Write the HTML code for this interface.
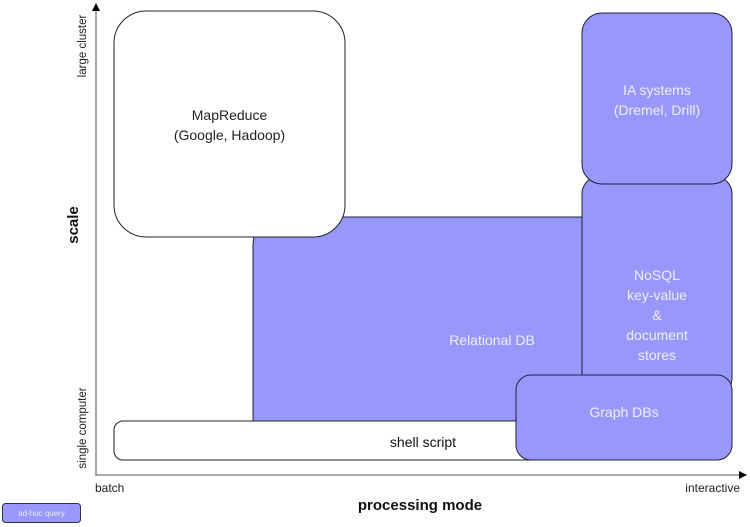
<!DOCTYPE html>
<html><head><meta charset="utf-8"><style>
html,body{margin:0;padding:0;background:#fff;}
svg{display:block;font-family:"Liberation Sans",sans-serif;}
</style></head><body>
<svg width="750" height="527" viewBox="0 0 750 527" xmlns="http://www.w3.org/2000/svg">
<defs><marker id="ah" markerWidth="8" markerHeight="8" refX="7" refY="4" orient="auto" markerUnits="userSpaceOnUse"><path d="M0,0 L8,4 L0,8 z" fill="#000"/></marker></defs>
<!-- axes -->
<line x1="96" y1="476" x2="96" y2="4" stroke="#777" stroke-width="1.3" marker-end="url(#ah)"/>
<line x1="96" y1="475" x2="746" y2="475" stroke="#777" stroke-width="1.3" marker-end="url(#ah)"/>
<!-- Relational DB -->
<path d="M253,421.5 L253,247 Q253,217 283,217 L640,217 L640,421.5 Z" fill="#9797fc" stroke="#223" stroke-width="1"/>
<text x="492" y="345" font-size="14" fill="#eef" text-anchor="middle">Relational DB</text>
<!-- MapReduce -->
<rect x="114" y="11" width="231" height="226" rx="32" fill="#fff" stroke="#222" stroke-width="1"/>
<text x="229.5" y="120" font-size="14" fill="#222" text-anchor="middle">MapReduce</text>
<text x="229.5" y="140" font-size="14" fill="#222" text-anchor="middle">(Google, Hadoop)</text>
<!-- shell script -->
<rect x="114" y="421" width="430" height="39" rx="9" fill="#fff" stroke="#222" stroke-width="1"/>
<text x="423" y="447" font-size="14" fill="#111" text-anchor="middle">shell script</text>
<!-- NoSQL -->
<rect x="582" y="176" width="150" height="220" rx="18" fill="#9797fc" stroke="#223" stroke-width="1"/>
<text x="657" y="280" font-size="14" fill="#eef" text-anchor="middle">NoSQL</text>
<text x="657" y="300" font-size="14" fill="#eef" text-anchor="middle">key-value</text>
<text x="657" y="320" font-size="14" fill="#eef" text-anchor="middle">&amp;</text>
<text x="657" y="340" font-size="14" fill="#eef" text-anchor="middle">document</text>
<text x="657" y="360" font-size="14" fill="#eef" text-anchor="middle">stores</text>
<!-- IA systems -->
<rect x="582" y="13" width="150" height="171" rx="20" fill="#9797fc" stroke="#223" stroke-width="1"/>
<text x="657" y="95" font-size="14" fill="#eef" text-anchor="middle">IA systems</text>
<text x="657" y="115" font-size="14" fill="#eef" text-anchor="middle">(Dremel, Drill)</text>
<!-- Graph DBs -->
<rect x="516" y="375" width="216" height="85" rx="15" fill="#9797fc" stroke="#223" stroke-width="1"/>
<text x="624" y="417" font-size="14" fill="#eef" text-anchor="middle">Graph DBs</text>
<!-- labels -->
<text x="95" y="492" font-size="12" fill="#222">batch</text>
<text x="740" y="492" font-size="12" fill="#222" text-anchor="end">interactive</text>
<text x="420" y="510" font-size="15" font-weight="bold" fill="#111" text-anchor="middle">processing mode</text>
<text transform="translate(78,225) rotate(-90)" font-size="15" font-weight="bold" fill="#111" text-anchor="middle">scale</text>
<text transform="translate(86,46) rotate(-90)" font-size="11.5" fill="#222" text-anchor="middle">large cluster</text>
<text transform="translate(86,428) rotate(-90)" font-size="11.5" fill="#222" text-anchor="middle">single computer</text>
<!-- legend -->
<rect x="2.5" y="503.5" width="78" height="19" rx="3" fill="#9797fc" stroke="#334" stroke-width="1"/>
<text x="41.5" y="516" font-size="8" fill="#eef" text-anchor="middle">ad-hoc query</text>
</svg>
</body></html>
